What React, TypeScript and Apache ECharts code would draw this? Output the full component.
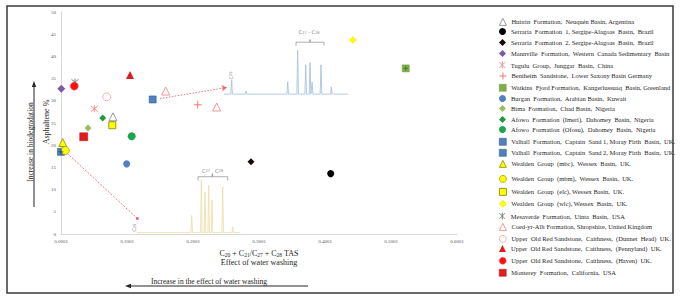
import { useEffect, useRef } from 'react';
import * as echarts from 'echarts';

const FONT = "'Liberation Serif', 'Times New Roman', serif";
const SANS = "'DejaVu Sans', sans-serif";

// x tick labels read 0.0001, 0.1001 ... 0.6001 -> axis runs 0..0.6 with this label offset
const X_LABEL_OFFSET = 0.0001;
const X_MIN = 0;
const X_MAX = 0.6;
const X_STEP = 0.1;
const Y_MIN = 0;
const Y_MAX = 50;
const Y_STEP = 5;

const SERIES_NAMES = [
  'Huitrin  Formation,  Neuquén Basin, Argentina',
  'Serraria  Formation  1, Sergipe-Alagoas  Basin,  Brazil',
  'Serraria  Formation  2, Sergipe-Alagoas  Basin,  Brazil',
  'Mannville  Formation,  Western  Canada Sedimentary  Basin',
  'Tugulu  Group,  Junggar  Basin,  China',
  'Bentheim  Sandstone,  Lower Saxony Basin Germany',
  'Watkins  Fjord Formation,  Kangerlussuaq  Basin, Greenland',
  'Burgan  Formation,  Arabian Basin,  Kuwait',
  'Bima  Formation,  Chad Basin,  Nigeria',
  'Afowo  Formation  (Imeri),  Dahomey  Basin,  Nigeria',
  'Afowo  Formation  (Ofosu),  Dahomey  Basin,  Nigeria',
  'Valhall  Formation,  Captain  Sand 1, Moray Firth  Basin,  UK.',
  'Valhall  Formation,  Captain  Sand 2, Moray Firth  Basin,  UK.',
  'Wealden  Group  (mbc),  Wessex  Basin,  UK.',
  'Wealden  Group  (mbm),  Wessex  Basin,  UK.',
  'Wealden  Group  (elc), Wessex Basin,  UK.',
  'Wealden  Group  (wlc), Wessex  Basin,  UK.',
  'Mesaverde  Formation,  Uinta  Basin,  USA',
  'Coed-yr-Allt Formation, Shropshire, United Kingdom',
  'Upper  Old Red Sandstone,  Caithness,  (Dunnet  Head)  UK.',
  'Upper  Old Red Sandstone,  Caithness,  (Pennyland)  UK.',
  'Upper  Old Red Sandstone,  Caithness,  (Haven)  UK.',
  'Monterey  Formation,  California,  USA',
];

// [TAS ratio (as on tick labels), asphaltene %]
const huitrinPts = [[0.0789, 26.4]];
const serraria1Pts = [[0.4087, 13.6]];
const serraria2Pts = [[0.288, 16.3]];
const mannvillePts = [[0.0006, 32.7]];
const tuguluPts = [[0.0506, 28.2]];
const bentheimPts = [[0.2072, 29.1]];
const watkinsPts = [[0.5224, 37.3]];
const burganPts = [[0.0996, 15.8]];
const bimaPts = [[0.041, 23.9]];
const afowoImeriPts = [[0.0633, 26.1]];
const afowoOfosuPts = [[0.1072, 22.0]];
const valhall1Pts = [[0.139, 30.3]];
const valhall2Pts = [[0.0001, 18.5]];
const wealdenMbcPts = [[0.0027, 20.6]];
const wealdenMbmPts = [[0.0066, 18.8]];
const wealdenElcPts = [[0.0778, 24.5]];
const wealdenWlcPts = [[0.4421, 43.7]];
const mesaverdePts = [[0.0213, 34.2]];
const coedPts = [[0.1587, 32.2], [0.236, 28.6]];
const dunnetPts = [[0.0693, 30.9]];
const pennylandPts = [[0.1046, 35.8]];
const havenPts = [[0.0202, 33.3]];
const montereyPts = [[0.0345, 21.9]];

const SERIES_POINTS = [
  huitrinPts, serraria1Pts, serraria2Pts, mannvillePts, tuguluPts, bentheimPts,
  watkinsPts, burganPts, bimaPts, afowoImeriPts, afowoOfosuPts, valhall1Pts,
  valhall2Pts, wealdenMbcPts, wealdenMbmPts, wealdenElcPts, wealdenWlcPts,
  mesaverdePts, coedPts, dunnetPts, pennylandPts, havenPts, montereyPts,
];

// inset chromatograms (drawn in data space): baseline, extent, peaks [x, top]
const blueTraceBase = 31.5;
const blueTraceExtent = [0.2471, 0.435];
const blueTracePeaks = [
  [0.2587, 34.7], [0.2804, 32.2], [0.3436, 34.3], [0.3587, 41.4], [0.3709, 38.1],
  [0.3774, 38.6], [0.3806, 34.2], [0.394, 38.1], [0.4097, 33.1],
];
const yellowTraceBase = 0.3;
const yellowTraceExtent = [0.1153, 0.2713];
const yellowTracePeaks = [
  [0.1981, 4.2], [0.2127, 12.2], [0.2183, 9.5], [0.2239, 11.0], [0.2289, 7.7],
  [0.2451, 10.6], [0.2603, 1.6],
];
// brackets [x1, x2, xc, yLow, yHigh, yTop]
const blueBracket = [0.3562, 0.3986, 0.3774, 42.4, 43.2, 43.8];
const yellowBracket = [0.2077, 0.2527, 0.2293, 12.0, 12.9, 13.6];

const traceLabels = [
  { x: 0.3759, y: 45.6, text: '{c|C}{d|27}{c| - C}{d|28}', rotate: 0 },
  { x: 0.2198, y: 14.4, text: '{c|C}{d|27}', rotate: 0 },
  { x: 0.2395, y: 14.4, text: '{c|C}{d|28}', rotate: 0 },
  { x: 0.2562, y: 35.7, text: '{c|C}{d|29}', rotate: 90 },
  { x: 0.1107, y: 1.4, text: '{c|C}{d|29}', rotate: 90 },
];

// red guide arrows [x1, y1, x2, y2]
const arrowToBlueTrace = [0.1501, 30.5, 0.2512, 33.0];
const arrowToYellowTrace = [0.0092, 18.2, 0.1157, 3.5];

const LEGEND_ROW_Y = [22, 32, 43, 54, 65, 76, 88, 99, 109, 120, 130, 142, 153, 164, 179, 192, 204, 216, 227, 239, 249, 261, 273];

const ASTERISK = 'path://M1,1L9,9M9,1L1,9M5,0L5,10';
const PLUS = 'path://M5,0L5,10M0,5L10,5';

const STYLES: any[] = [
  { symbol: 'triangle', size: 8, color: '#ffffff', border: '#808080', bw: 0.8 },
  { symbol: 'circle', size: 7, color: '#000000' },
  { symbol: 'diamond', size: 7, color: '#1a0a0a' },
  { symbol: 'diamond', size: 8, color: '#7b5aa6' },
  { symbol: ASTERISK, size: 7, color: 'rgba(0,0,0,0)', border: '#f29090', bw: 1 },
  { symbol: PLUS, size: 8, color: 'rgba(0,0,0,0)', border: '#f06a6a', bw: 0.9 },
  { symbol: 'rect', size: 7, color: '#7fae48', border: '#6a9a3a', bw: 0.5 },
  { symbol: 'circle', size: 7, color: '#4f81bd' },
  { symbol: 'diamond', size: 7, color: '#9bbb59' },
  { symbol: 'diamond', size: 7, color: '#1f9a3e' },
  { symbol: 'circle', size: 8, color: '#1aa64b' },
  { symbol: 'rect', size: 7, color: '#4f81bd', border: '#385d8a', bw: 0.6 },
  { symbol: 'rect', size: 7, color: '#4f81bd', border: '#385d8a', bw: 0.6 },
  { symbol: 'triangle', size: 8, color: '#ffff00', border: '#8c8c00', bw: 0.8 },
  { symbol: 'circle', size: 8, color: '#ffff00', border: '#a6a600', bw: 0.8 },
  { symbol: 'rect', size: 7, color: '#ffff00', border: '#808000', bw: 0.8 },
  { symbol: 'diamond', size: 7, color: '#ffff00', border: '#e6e600', bw: 0.6 },
  { symbol: ASTERISK, size: 7, color: 'rgba(0,0,0,0)', border: '#7f7f7f', bw: 1 },
  { symbol: 'triangle', size: 8, color: '#ffffff', border: '#f08080', bw: 0.8 },
  { symbol: 'circle', size: 8, color: '#ffffff', border: '#f4a0a0', bw: 0.8 },
  { symbol: 'triangle', size: 8, color: '#d91f1f' },
  { symbol: 'circle', size: 8, color: '#ff1010', border: '#f06060', bw: 0.5 },
  { symbol: 'rect', size: 8, color: '#e01e1e', border: '#b01010', bw: 0.5 },
];

function toAxis(p: number[]) {
  return [p[0] - X_LABEL_OFFSET, p[1]];
}

function buildTrace(base: number, extent: number[], peaks: number[][]) {
  const hw = 0.0012;
  const pts: number[][] = [[extent[0], base]];
  peaks.forEach(([x, top]) => {
    pts.push([x - hw, base], [x, top], [x + hw, base]);
  });
  pts.push([extent[1], base]);
  return pts.map(toAxis);
}

function buildBracket(b: number[]) {
  const [x1, x2, xc, lo, hi, top] = b;
  return [[x1, lo], [x1, hi], [xc, hi], [xc, top], [xc, hi], [x2, hi], [x2, lo]].map(toAxis);
}

export default function App() {
  const ref = useRef<HTMLDivElement>(null);
  useEffect(() => {
    document.body.style.margin = '0';
    if (!ref.current) return;
    const chart = echarts.init(ref.current, null, { renderer: 'svg' });

    const scatterSeries = SERIES_NAMES.map((name, i) => {
      const st = STYLES[i];
      return {
        type: 'scatter',
        name,
        data: SERIES_POINTS[i].map(toAxis),
        symbol: st.symbol,
        symbolSize: st.size,
        clip: false,
        z: 5,
        itemStyle: {
          color: st.color,
          borderColor: st.border || st.color,
          borderWidth: st.bw || 0,
          opacity: 1,
        },
      };
    });

    const overlaySeries = [
      { pts: watkinsPts, color: '#3f6e22' },
      { pts: valhall2Pts, color: '#20406e' },
    ].map((o, i) => ({
      type: 'scatter',
      name: '__overlay' + i,
      data: o.pts.map(toAxis),
      symbol: PLUS,
      symbolSize: 5,
      clip: false,
      z: 5,
      silent: true,
      itemStyle: { color: 'rgba(0,0,0,0)', borderColor: o.color, borderWidth: 0.9 },
    }));

    const lineBase = {
      type: 'line',
      symbol: 'none',
      silent: true,
      clip: false,
      z: 1,
    };

    const traceSeries = [
      { ...lineBase, name: '__blueTrace', data: buildTrace(blueTraceBase, blueTraceExtent, blueTracePeaks), lineStyle: { color: '#a9c3e2', width: 0.9 } },
      { ...lineBase, name: '__yellowTrace', data: buildTrace(yellowTraceBase, yellowTraceExtent, yellowTracePeaks), lineStyle: { color: '#eee0ad', width: 0.9 } },
      { ...lineBase, name: '__blueBracket', data: buildBracket(blueBracket), lineStyle: { color: '#8c8c8c', width: 0.7 } },
      { ...lineBase, name: '__yellowBracket', data: buildBracket(yellowBracket), lineStyle: { color: '#8c8c8c', width: 0.7 } },
    ];

    const labelSeries = {
      type: 'scatter',
      name: '__labels',
      silent: true,
      clip: false,
      symbolSize: 1,
      itemStyle: { color: 'rgba(0,0,0,0)' },
      z: 3,
      data: traceLabels.map((l) => ({
        value: toAxis([l.x, l.y]),
        label: { show: true, formatter: l.text, rotate: l.rotate, position: 'inside' },
      })),
      label: {
        show: true,
        color: '#555555',
        rich: {
          c: { fontSize: 5, fontFamily: SANS, color: '#555555', lineHeight: 6, verticalAlign: 'bottom' },
          d: { fontSize: 3.6, fontFamily: SANS, color: '#555555', lineHeight: 3.5, verticalAlign: 'bottom' },
        },
      },
    };

    const arrowSeries = [
      { a: arrowToBlueTrace, sym: 'arrow', size: 5, dash: [1.5, 1.5] },
      { a: arrowToYellowTrace, sym: 'circle', size: 3, dash: [2, 1.5] },
    ].map((o, i) => ({
      type: 'scatter',
      name: '__arrow' + i,
      data: [],
      silent: true,
      z: 4,
      markLine: {
        silent: true,
        animation: false,
        symbol: ['none', o.sym],
        symbolSize: o.size,
        label: { show: false },
        lineStyle: { color: '#e8504f', width: 0.9, type: o.dash, opacity: 0.85 },
        data: [[{ coord: toAxis([o.a[0], o.a[1]]) }, { coord: toAxis([o.a[2], o.a[3]]) }]],
      },
    }));

    const legends = SERIES_NAMES.map((name, i) => ({
      data: [name],
      left: 499,
      top: LEGEND_ROW_Y[i] - 4,
      itemWidth: 7,
      itemHeight: 7,
      padding: 0,
      selectedMode: false,
      itemStyle: { borderWidth: STYLES[i].bw || 0 },
      textStyle: { fontFamily: FONT, fontSize: 6.5, color: '#262626' },
    }));

    const axisLabelStyle = { fontFamily: FONT, fontSize: 5, color: '#595959' };

    chart.setOption({
      animation: false,
      backgroundColor: '#ffffff',
      grid: { left: 61, right: 223, top: 12, bottom: 63, containLabel: false },
      xAxis: {
        type: 'value',
        min: X_MIN,
        max: X_MAX,
        interval: X_STEP,
        axisLine: { show: true, onZero: false, lineStyle: { color: '#d9d9d9', width: 1 } },
        axisTick: { show: false },
        splitLine: { show: false },
        axisLabel: {
          ...axisLabelStyle,
          margin: 5,
          formatter: (v: number) => (v + X_LABEL_OFFSET).toFixed(4),
        },
        name: '{m|C}{s|20}{m| + C}{s|21}{m|/C}{s|27}{m| + C}{s|28}{m| TAS}\n{m|Effect of water washing}',
        nameLocation: 'middle',
        nameGap: 12,
        nameTextStyle: {
          fontFamily: FONT,
          fontSize: 8,
          color: '#262626',
          lineHeight: 9,
          rich: {
            m: { fontFamily: FONT, fontSize: 8, color: '#262626', lineHeight: 9, verticalAlign: 'bottom' },
            s: { fontFamily: FONT, fontSize: 5.5, color: '#262626', lineHeight: 4, verticalAlign: 'bottom' },
          },
        },
      },
      yAxis: {
        type: 'value',
        min: Y_MIN,
        max: Y_MAX,
        interval: Y_STEP,
        axisLine: { show: true, onZero: false, lineStyle: { color: '#d9d9d9', width: 1 } },
        axisTick: { show: false },
        splitLine: { show: false },
        axisLabel: { ...axisLabelStyle, margin: 5 },
      },
      legend: legends,
      series: [...traceSeries, labelSeries, ...arrowSeries, ...scatterSeries, ...overlaySeries],
      graphic: [
        { type: 'rect', silent: true, shape: { x: 7, y: 6, width: 666, height: 287 }, style: { fill: 'none', stroke: '#3a3a3a', lineWidth: 1.5 } },
        { type: 'line', silent: true, shape: { x1: 34, y1: 207, x2: 34, y2: 86 }, style: { stroke: '#262626', lineWidth: 1 } },
        { type: 'polygon', silent: true, shape: { points: [[34, 81], [31.8, 87], [36.2, 87]] }, style: { fill: '#262626' } },
        {
          type: 'text', silent: true, x: 30, y: 142, rotation: Math.PI / 2,
          style: { text: 'Increase in biodegradation', fontSize: 7.5, fontFamily: FONT, fill: '#262626', align: 'center', verticalAlign: 'middle', textAlign: 'center', textVerticalAlign: 'middle' },
        },
        {
          type: 'text', silent: true, x: 46, y: 122, rotation: Math.PI / 2,
          style: { text: 'Asphaltene %', fontSize: 8, fontFamily: FONT, fill: '#262626', align: 'center', verticalAlign: 'middle', textAlign: 'center', textVerticalAlign: 'middle' },
        },
        { type: 'line', silent: true, shape: { x1: 130, y1: 286, x2: 308, y2: 286 }, style: { stroke: '#262626', lineWidth: 1 } },
        { type: 'polygon', silent: true, shape: { points: [[125, 286], [131, 283.8], [131, 288.2]] }, style: { fill: '#262626' } },
        {
          type: 'text', silent: true, x: 209, y: 281,
          style: { text: 'Increase in the effect of water washing', fontSize: 7.5, fontFamily: FONT, fill: '#262626', align: 'center', verticalAlign: 'middle', textAlign: 'center', textVerticalAlign: 'middle' },
        },
      ],
    });

    return () => chart.dispose();
  }, []);

  return <div ref={ref} style={{ width: 680, height: 297 }} />;
}
